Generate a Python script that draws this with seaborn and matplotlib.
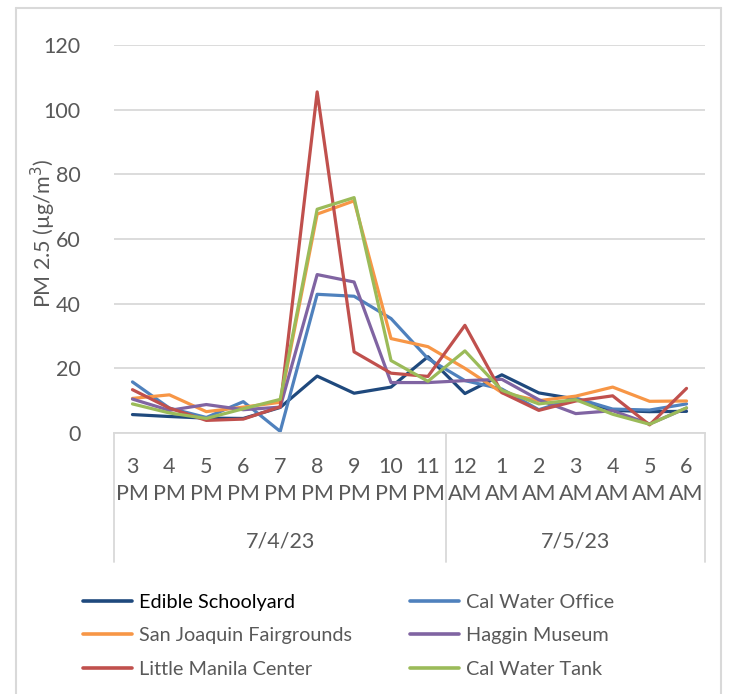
import numpy as np
import pandas as pd
import matplotlib
matplotlib.use("Agg")
import matplotlib.pyplot as plt
import matplotlib.transforms as mtransforms
from matplotlib.lines import Line2D
import seaborn as sns

# ---------------- data ----------------
hours = ["3", "4", "5", "6", "7", "8", "9", "10", "11", "12", "1", "2", "3", "4", "5", "6"]
periods = ["PM"] * 9 + ["AM"] * 7
dates = ["7/4/23", "7/5/23"]
date_counts = [9, 7]

sites = ["Edible Schoolyard", "Cal Water Office", "San Joaquin Fairgrounds",
         "Haggin Museum", "Little Manila Center", "Cal Water Tank"]

edible_schoolyard = [5.7, 5.1, 4.6, 4.5, 7.9, 17.6, 12.3, 14.2, 23.6, 12.2, 18.0, 12.4, 10.5, 7.0, 6.6, 6.7]
cal_water_office = [15.8, 7.7, 4.8, 9.7, 0.5, 42.9, 42.3, 35.4, 23.0, 16.2, 13.6, 7.2, 10.8, 7.4, 7.1, 9.0]
san_joaquin_fairgrounds = [10.7, 11.8, 6.6, 8.0, 9.5, 67.7, 71.8, 29.2, 26.7, 20.0, 12.5, 10.0, 11.4, 14.2, 9.8, 9.9]
haggin_museum = [10.5, 7.0, 8.8, 7.2, 8.0, 49.0, 46.7, 15.6, 15.6, 16.2, 16.6, 10.3, 6.0, 6.9, 2.8, 7.7]
little_manila_center = [13.4, 7.7, 3.9, 4.3, 8.1, 105.5, 25.1, 18.5, 17.5, 33.3, 12.5, 7.0, 9.9, 11.5, 2.5, 13.8]
cal_water_tank = [9.0, 6.2, 4.5, 7.5, 10.4, 69.2, 72.8, 22.4, 16.0, 25.4, 13.2, 9.0, 10.3, 5.8, 2.7, 7.8]

series = [edible_schoolyard, cal_water_office, san_joaquin_fairgrounds,
          haggin_museum, little_manila_center, cal_water_tank]
colors = ["#1F497D", "#4F81BD", "#F79646", "#8064A2", "#C0504D", "#9BBB59"]

yticks = [0, 20, 40, 60, 80, 100, 120]

# ---------------- build frame ----------------
rows = []
for s, vals in zip(sites, series):
    for i, v in enumerate(vals):
        rows.append({"idx": i, "site": s, "pm": v})
df = pd.DataFrame(rows)

sns.set_theme(style="white")
FONT = ["Lato", "DejaVu Sans"]
plt.rcParams["font.family"] = FONT
GRAY_TXT = "#595959"
GRID = "#D9D9D9"

W, H = 737, 694
fig = plt.figure(figsize=(W / 100, H / 100), dpi=100)
L, R, T, B = 114, 705, 45, 433
ax = fig.add_axes([L / W, 1 - B / H, (R - L) / W, (B - T) / H])

sns.lineplot(data=df, x="idx", y="pm", hue="site", hue_order=sites,
             palette=dict(zip(sites, colors)), linewidth=2.3, ax=ax,
             legend=False, sort=False)

n = len(hours)
ax.set_xlim(-0.5, n - 0.5)
ax.set_ylim(0, 120)
ax.set_yticks(yticks)
ax.set_yticklabels([str(t) for t in yticks], fontsize=15.5, color=GRAY_TXT)
ax.tick_params(axis="y", length=0, pad=24)
ax.set_xticks([])
ax.set_xlabel("")
ax.set_ylabel("")
for sp in ["top", "right", "left"]:
    ax.spines[sp].set_visible(False)
ax.spines["bottom"].set_color(GRID)
ax.spines["bottom"].set_linewidth(1.3)
ax.grid(axis="y", color=GRID, linewidth=1.3)
ax.grid(axis="x", visible=False)
ax.set_axisbelow(True)

# category labels
tr = mtransforms.blended_transform_factory(ax.transData, fig.transFigure)
for i, (h, p) in enumerate(zip(hours, periods)):
    ax.text(i, 1 - 467 / H, h, transform=tr, ha="center", va="center",
            fontsize=15.5, color=GRAY_TXT, clip_on=False)
    ax.text(i, 1 - 494 / H, p, transform=tr, ha="center", va="center",
            fontsize=15.5, color=GRAY_TXT, clip_on=False)

start = 0
bounds = [-0.5]
for d, c in zip(dates, date_counts):
    center = start + (c - 1) / 2
    ax.text(center, 1 - 541 / H, d, transform=tr, ha="center", va="center",
            fontsize=15.5, color=GRAY_TXT, clip_on=False)
    start += c
    bounds.append(start - 0.5)
for b in bounds:
    ax.add_line(Line2D([b, b], [1 - B / H, 1 - 562 / H], transform=tr,
                       color=GRID, linewidth=1.3, clip_on=False))

# y label
fig.text(43 / W, 1 - 233 / H, "PM 2.5 (µg/m$^3$)", rotation=90, ha="center",
         va="center", fontsize=15.5, color=GRAY_TXT)

# chart border
fig.add_artist(Line2D([16 / W, 16 / W], [0, 1 - 8 / H], transform=fig.transFigure, color=GRID, lw=1.5))
fig.add_artist(Line2D([16 / W, 721 / W], [1 - 8 / H, 1 - 8 / H], transform=fig.transFigure, color=GRID, lw=1.5))
fig.add_artist(Line2D([721 / W, 721 / W], [0, 1 - 8 / H], transform=fig.transFigure, color=GRID, lw=1.5))

# legend (two columns)
handles = {s: Line2D([], [], color=c, linewidth=2.6) for s, c in zip(sites, colors)}
col1 = [sites[0], sites[2], sites[4]]
col2 = [sites[1], sites[3], sites[5]]
leg_kw = dict(frameon=False, fontsize=14.3, handlelength=2.45, handletextpad=0.35,
              labelspacing=0.82, borderaxespad=0, borderpad=0)
leg1 = fig.legend([handles[s] for s in col1], col1, loc="upper left",
                  bbox_to_anchor=(83 / W, 1 - 594 / H), **leg_kw)
for t in leg1.get_texts():
    t.set_color(GRAY_TXT)
leg1.get_texts()[0].set_color("black")
leg2 = fig.legend([handles[s] for s in col2], col2, loc="upper left",
                  bbox_to_anchor=(410 / W, 1 - 594 / H), **leg_kw)
for t in leg2.get_texts():
    t.set_color(GRAY_TXT)

fig.savefig("out.png", dpi=100)
